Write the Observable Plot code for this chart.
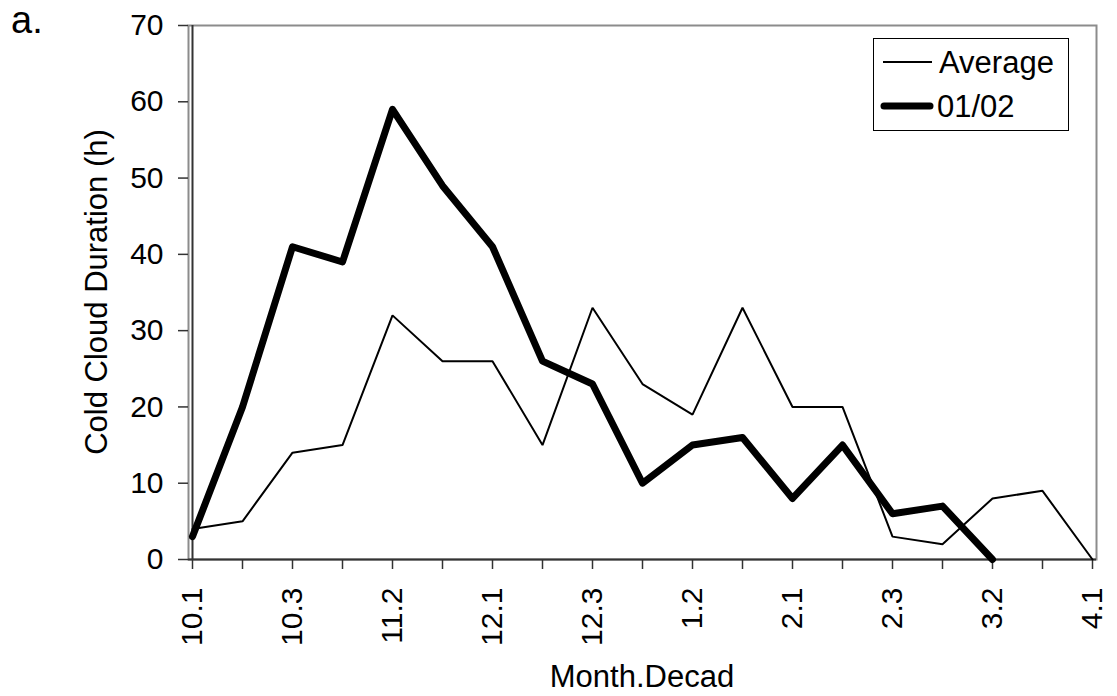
<!DOCTYPE html>
<html><head><meta charset="utf-8">
<script src="https://cdn.jsdelivr.net/npm/d3@7"></script>
<script src="https://cdn.jsdelivr.net/npm/@observablehq/plot@0.6"></script>
<style>
body{margin:0;background:#fff;}
#wrap{position:relative;width:1117px;height:696px;font-family:"Liberation Sans",Arial,sans-serif;}
</style></head><body><div id="wrap"></div>
<script>
const decads = ["10.1","10.2","10.3","11.1","11.2","11.3","12.1","12.2","12.3","1.1","1.2","1.3","2.1","2.2","2.3","3.1","3.2","3.3","4.1"];
const tickLabels = ["10.1","10.3","11.2","12.1","12.3","1.2","2.1","2.3","3.2","4.1"];
const average = [4,5,14,15,32,26,26,15,33,23,19,33,20,20,3,2,8,9,0];
const season0102 = [3,20,41,39,59,49,41,26,23,10,15,16,8,15,6,7,0];
const yTicks = [0,10,20,30,40,50,60,70];
const seriesNames = ["Average","01/02"];
const xTitle = "Month.Decad";
const yTitle = "Cold Cloud Duration (h)";
const panelLabel = "a.";

const avgData = decads.map((d,i)=>({decad:d, value:average[i]}));
const s2Data = season0102.map((v,i)=>({decad:decads[i], value:v}));
const FONT = '"Liberation Sans",Arial,sans-serif';

const chart = Plot.plot({
  width:1117, height:696,
  marginLeft:188, marginRight:21, marginTop:25, marginBottom:137,
  style:{fontFamily:FONT, fontSize:"30px", background:"#fff", color:"#000", overflow:"visible"},
  x:{type:"point", domain:decads, padding:0},
  y:{domain:[0,70]},
  marks:[
    Plot.frame({stroke:"#8c8c8c", strokeWidth:2}),
    Plot.axisY({ticks:yTicks, tickSize:10, tickPadding:15, label:null, fontSize:30, stroke:"#333", strokeWidth:1.5}),
    Plot.axisX({ticks:decads, tickSize:10, tickPadding:18, tickRotate:-90, tickFormat:d=>tickLabels.includes(d)?d:"", label:null, fontSize:30, stroke:"#333", strokeWidth:1.5}),
    Plot.ruleY([0],{stroke:"#333", strokeWidth:2}),
    Plot.ruleX([decads[0]],{stroke:"#333", strokeWidth:2}),
    Plot.line(avgData,{x:"decad", y:"value", stroke:"#000", strokeWidth:2, strokeLinejoin:"miter"}),
    Plot.line(s2Data,{x:"decad", y:"value", stroke:"#000", strokeWidth:7, strokeLinejoin:"round"})
  ]
});
document.getElementById("wrap").appendChild(chart);

const svg = d3.select(chart);
function addText(x,y,txt,size,anchor){
  return svg.append("text").attr("x",x).attr("y",y).attr("font-size",size).attr("font-family",FONT)
    .attr("fill","#000").attr("text-anchor",anchor||"start").text(txt);
}
addText(11,33,panelLabel,38,"start");
svg.append("text").attr("transform","translate(107,292) rotate(-90)").attr("text-anchor","middle").attr("font-size",31).attr("font-family",FONT).attr("fill","#000").text(yTitle);
addText(642,687,xTitle,31,"middle");

const lg = svg.append("g");
lg.append("rect").attr("x",873.5).attr("y",38.5).attr("width",195).attr("height",92).attr("fill","#fff").attr("stroke","#000").attr("stroke-width",1);
const rows = [{name:seriesNames[0], w:2, y:62, cap:"butt"},{name:seriesNames[1], w:7, y:106, cap:"round"}];
rows.forEach(r=>{
  lg.append("line").attr("x1",r.cap==="round"?884:883).attr("x2",r.cap==="round"?930:932).attr("y1",r.y).attr("y2",r.y).attr("stroke","#000").attr("stroke-width",r.w).attr("stroke-linecap",r.cap);
  lg.append("text").attr("x",r.cap==="round"?937:939).attr("y",r.y+11).attr("font-size",31).attr("font-family",FONT).attr("fill","#000").attr("text-anchor","start").text(r.name);
});
</script></body></html>
